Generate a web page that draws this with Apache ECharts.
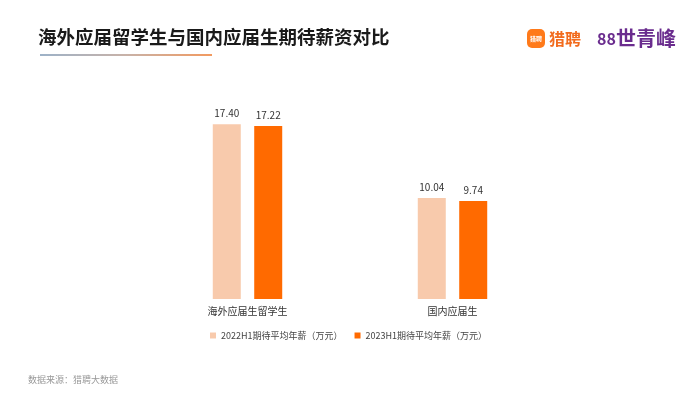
<!DOCTYPE html>
<html>
<head>
<meta charset="utf-8">
<script src="https://cdn.jsdelivr.net/npm/echarts@6/dist/echarts.min.js"></script>
<style>
  html, body { margin: 0; padding: 0; background: #fff; }
  #chart { width: 699px; height: 399px; }
</style>
</head>
<body>
<div id="chart"></div>
<script>
const categories = ['海外应届生留学生', '国内应届生'];
const seriesNames = ['2022H1期待平均年薪（万元）', '2023H1期待平均年薪（万元）'];
const salary2022 = [17.40, 10.04];
const salary2023 = [17.22, 9.74];

const FONT = '"Noto Sans CJK SC", "Noto Sans", sans-serif';

const chart = echarts.init(document.getElementById('chart'));

const barLabel = {
  show: true,
  position: 'top',
  distance: 6,
  color: '#333',
  fontSize: 10,
  fontFamily: FONT,
  formatter: p => p.value.toFixed(2)
};

chart.setOption({
  animation: false,
  backgroundColor: '#fff',
  textStyle: { fontFamily: FONT },
  grid: { left: 145, right: 144, top: 98, bottom: 100 },
  legend: {
    data: seriesNames,
    top: 326,
    left: 205,
    itemWidth: 6,
    itemHeight: 6,
    itemGap: 12,
    icon: 'rect',
    textStyle: { fontSize: 9, color: '#444', fontFamily: FONT }
  },
  xAxis: {
    type: 'category',
    data: categories,
    axisLine: { show: false },
    axisTick: { show: false },
    axisLabel: { color: '#333', fontSize: 10, margin: 7, fontFamily: FONT }
  },
  yAxis: {
    type: 'value',
    min: 0,
    max: 20,
    show: false
  },
  series: [
    {
      name: seriesNames[0],
      type: 'bar',
      data: salary2022,
      barWidth: 28,
      barGap: '48%',
      itemStyle: { color: '#F8CAAC' },
      label: barLabel
    },
    {
      name: seriesNames[1],
      type: 'bar',
      data: salary2023,
      barWidth: 28,
      itemStyle: { color: '#FF6A00' },
      label: barLabel
    }
  ],
  graphic: [
    {
      type: 'text', left: 38, top: 28,
      style: { text: '海外应届留学生与国内应届生期待薪资对比', fill: '#1a1a1a', font: 'bold 18.5px ' + FONT }
    },
    {
      type: 'rect', shape: { x: 40, y: 54, width: 172, height: 2 },
      style: {
        fill: new echarts.graphic.LinearGradient(0, 0, 1, 0, [
          { offset: 0, color: '#9DB2C8' },
          { offset: 0.5, color: '#C8B2A8' },
          { offset: 1, color: '#F29A60' }
        ])
      }
    },
    {
      type: 'rect', shape: { x: 527, y: 29, width: 18, height: 19, r: 5 },
      style: { fill: '#FF7A1A' }
    },
    {
      type: 'text', x: 536, y: 38.5,
      style: { text: '猎聘', fill: '#fff', align: 'center', verticalAlign: 'middle', font: 'bold 6px ' + FONT }
    },
    {
      type: 'text', x: 549, y: 38.5,
      style: { text: '猎聘', fill: '#F26B1D', verticalAlign: 'middle', font: 'bold 16px ' + FONT }
    },
    {
      type: 'text', x: 597, y: 39,
      style: { text: '88', fill: '#6A2C8E', verticalAlign: 'middle', font: 'bold 16px ' + FONT }
    },
    {
      type: 'text', x: 616, y: 38.5,
      style: { text: '世青峰', fill: '#6A2C8E', verticalAlign: 'middle', font: 'bold 20px ' + FONT }
    },
    {
      type: 'text', left: 28, top: 375,
      style: { text: '数据来源：猎聘大数据', fill: '#999', font: '9px ' + FONT }
    }
  ]
});
</script>
</body>
</html>
